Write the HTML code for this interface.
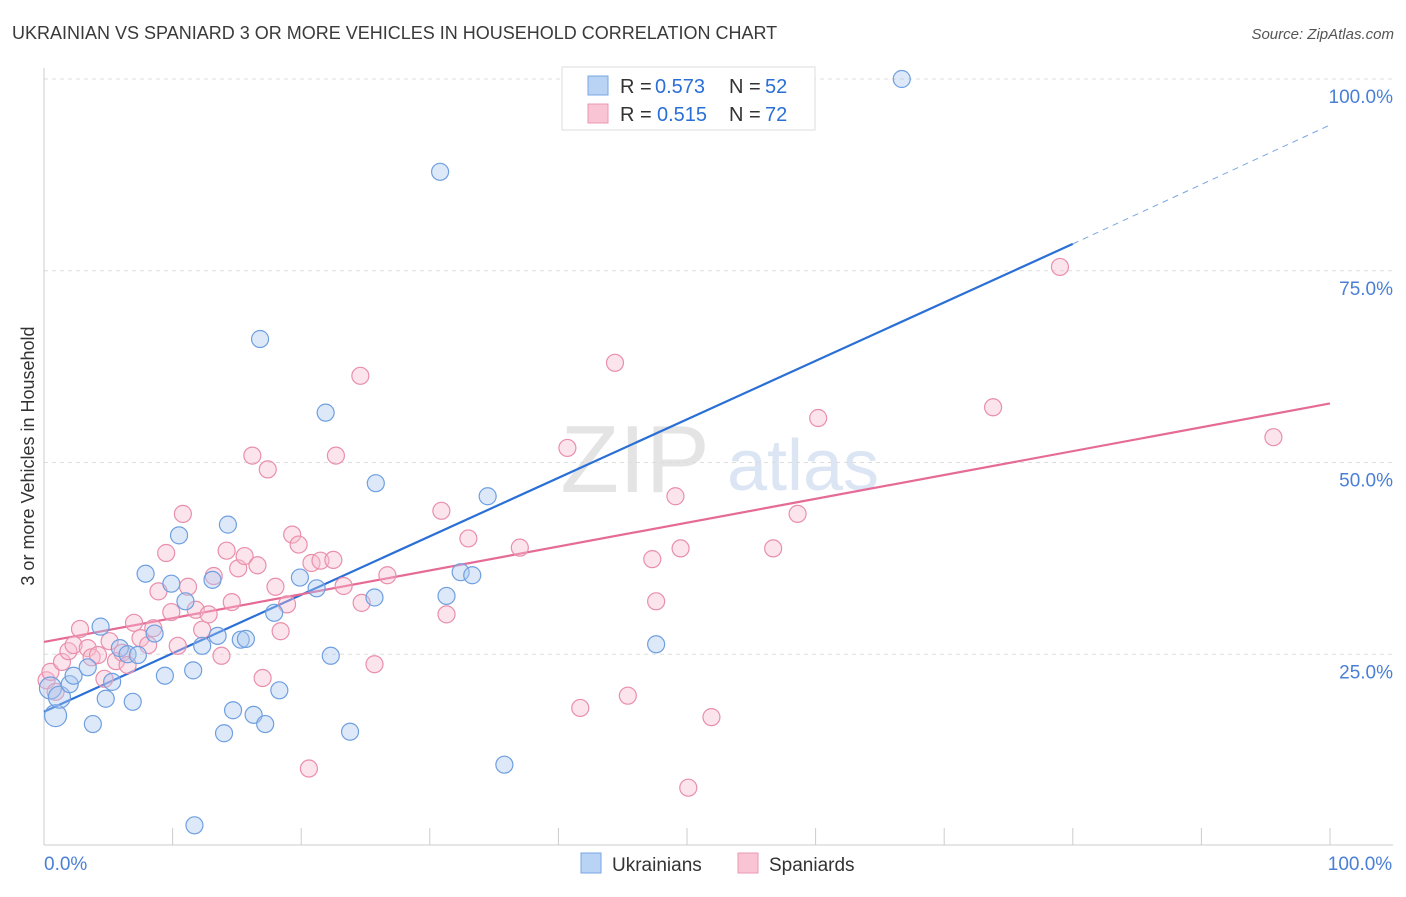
<!DOCTYPE html>
<html><head><meta charset="utf-8"><style>
body{margin:0;background:#fff;font-family:"Liberation Sans",sans-serif;}
svg text{font-family:"Liberation Sans",sans-serif;}
</style></head><body>
<svg id="chart" width="1406" height="892">
<text x="12" y="39" font-size="18" fill="#3a3a3a">UKRAINIAN VS SPANIARD 3 OR MORE VEHICLES IN HOUSEHOLD CORRELATION CHART</text>
<text x="1394" y="39" font-size="15" fill="#555" text-anchor="end" font-style="italic">Source: ZipAtlas.com</text>
<text x="34" y="456" font-size="18" fill="#333" text-anchor="middle" transform="rotate(-90 34 456)">3 or more Vehicles in Household</text>
<g><text x="635" y="492" font-size="96" fill="#e4e4e4" text-anchor="middle" font-family="Liberation Serif">ZIP</text><text x="803" y="490" font-size="72" fill="#dbe5f3" text-anchor="middle">atlas</text></g>
<g id="grid"></g><g id="axes"></g><g id="lines"></g><g id="pts"></g>
<g>
<rect x="562" y="67" width="253" height="63" fill="#fff" stroke="#ddd"/>
<rect x="588" y="76" width="20" height="19" fill="#b9d3f5" stroke="#7aa6e3"/>
<rect x="588" y="104" width="20" height="19" fill="#f9c5d5" stroke="#ea97b1"/>
<text x="620" y="93" font-size="20" fill="#333">R =</text><text x="655" y="93" font-size="20" fill="#2a6fd6">0.573</text>
<text x="729" y="93" font-size="20" fill="#333">N =</text><text x="765" y="93" font-size="20" fill="#2a6fd6">52</text>
<text x="620" y="121" font-size="20" fill="#333">R =</text><text x="657" y="121" font-size="20" fill="#2a6fd6">0.515</text>
<text x="729" y="121" font-size="20" fill="#333">N =</text><text x="765" y="121" font-size="20" fill="#2a6fd6">72</text>
</g>
<g>
<rect x="581" y="853" width="20" height="20" fill="#b9d3f5" stroke="#7aa6e3"/>
<text x="612" y="871" font-size="19" fill="#333">Ukrainians</text>
<rect x="738" y="853" width="20" height="20" fill="#f9c5d5" stroke="#ea97b1"/>
<text x="769" y="871" font-size="19" fill="#333">Spaniards</text>
</g>
</svg>
<script>
const yTicks=[25,50,75,100];
const xTickLabels=["0.0%","100.0%"];
const blueX=[0.9,0.5,1.2,2.0,2.3,3.4,4.4,4.8,5.3,3.8,5.9,6.5,7.3,6.9,7.9,8.6,9.4,9.9,10.5,11.0,11.6,11.7,12.3,13.1,13.5,14.0,14.3,14.7,15.3,15.7,16.3,16.8,17.2,17.9,18.3,19.9,21.2,21.9,22.3,23.8,25.7,25.8,31.3,30.8,32.4,33.3,34.5,35.8,47.6,66.7];
const blueY=[17.0,20.6,19.4,21.1,22.2,23.3,28.6,19.2,21.4,15.9,25.8,25.0,24.9,18.8,35.5,27.7,22.2,34.2,40.5,31.9,22.9,2.7,26.1,34.7,27.4,14.7,41.9,17.7,26.9,27.0,17.1,66.1,15.9,30.4,20.3,35.0,33.6,56.5,24.8,14.9,32.4,47.3,32.6,87.9,35.7,35.3,45.6,10.6,26.3,100.0];
const pinkX=[0.2,0.5,0.9,1.4,1.9,2.3,2.8,3.4,3.7,4.2,4.7,5.1,5.6,6.1,6.5,7.0,7.5,8.1,8.5,8.9,9.5,9.9,10.4,10.8,11.2,11.8,12.3,12.8,13.2,13.8,14.2,14.6,15.1,15.6,16.2,16.6,17.0,17.4,18.0,18.4,18.9,19.3,19.8,20.6,20.8,21.5,22.5,22.7,23.3,24.6,24.7,25.7,26.7,30.9,31.3,33.0,37.0,40.7,41.7,44.4,45.4,47.3,47.6,49.1,49.5,50.1,51.9,56.7,58.6,60.2,73.8,79.0,95.6];
const pinkY=[21.6,22.7,20.1,24.0,25.4,26.2,28.3,25.8,24.6,24.9,21.8,26.7,24.1,25.2,23.6,29.1,27.1,26.2,28.4,33.2,38.2,30.5,26.1,43.3,33.8,30.8,28.2,30.2,35.2,24.8,38.5,31.8,36.2,37.8,50.9,36.6,21.9,49.1,33.8,28.0,31.5,40.6,39.3,10.1,36.9,37.2,37.3,50.9,33.9,61.3,31.7,23.7,35.3,43.7,30.2,40.1,38.9,51.9,18.0,63.0,19.6,37.4,31.9,45.6,38.8,7.6,16.8,38.8,43.3,55.8,57.2,75.5,53.3];
const blueFit=[17.5,78.5]; // at x=0 and x=80
const blueDash=[78.5,94.0]; // at x=80 and x=100
const pinkFit=[26.6,57.7]; // at x=0 and x=100
const X=v=>44+v*12.86, Y=v=>846-v*7.67;
const NS="http://www.w3.org/2000/svg";
function mk(p,t,a){const e=document.createElementNS(NS,t);for(const k in a)e.setAttribute(k,a[k]);p.appendChild(e);return e;}
const grid=document.getElementById('grid'),axes=document.getElementById('axes'),lines=document.getElementById('lines'),pts=document.getElementById('pts');
yTicks.forEach(t=>{
 const l=mk(grid,'line',{x1:44,x2:1393,y1:Y(t),y2:Y(t),stroke:'#ddd','stroke-dasharray':'4 4'});
 
 
 const tx=mk(axes,'text',{x:1393,y:Y(t)+24,'font-size':19,fill:'#4a7fd6','text-anchor':'end'});tx.textContent=t.toFixed(1)+'%';
 
 
});
const ax=mk(axes,'line',{x1:44,x2:1393,y1:845,y2:845,stroke:'#ccc'});


const ay=mk(axes,'line',{x1:44,x2:44,y1:68,y2:845,stroke:'#ccc'});


for(let i=0;i<=10;i++){const t=mk(axes,'line',{x1:X(i*10),x2:X(i*10),y1:828,y2:845,stroke:'#ccc'});
 
 }
[[0,'start',44],[1,'middle',1360]].forEach(([i,a,x])=>{const t=mk(axes,'text',{x:x,y:870,'font-size':19,fill:'#4a7fd6','text-anchor':a});t.textContent=xTickLabels[i];
 
 });
function pt(xs,ys,fill,stroke,name){xs.forEach((v,i)=>{const r=(v<1.5&&name=='ukrainian-point')?11:8.5;
 const c=mk(pts,'circle',{cx:X(v),cy:Y(ys[i]),r:r,fill:fill,'fill-opacity':0.4,stroke:stroke,'stroke-width':1.2});
 
 });}
pt(pinkX,pinkY,'#f7bccf','#e98fab','spaniard-point');
pt(blueX,blueY,'#a9c8f0','#6f9fe0','ukrainian-point');
const bl=mk(lines,'line',{x1:X(0),y1:Y(blueFit[0]),x2:X(80),y2:Y(blueFit[1]),stroke:'#2a6fd6','stroke-width':2.2});


const bd=mk(lines,'line',{x1:X(80),y1:Y(blueDash[0]),x2:X(100),y2:Y(blueDash[1]),stroke:'#7aa6e3','stroke-width':1,'stroke-dasharray':'6 5'});


const pl=mk(lines,'line',{x1:X(0),y1:Y(pinkFit[0]),x2:X(100),y2:Y(pinkFit[1]),stroke:'#e56b96','stroke-width':2.2});


</script>
</body></html>
